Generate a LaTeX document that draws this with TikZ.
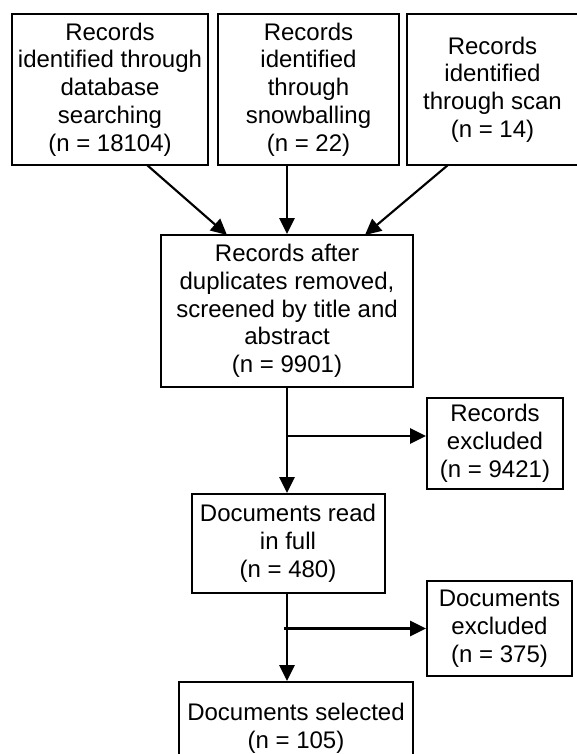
\documentclass[tikz,border=0pt]{standalone}
\usepackage{fontspec}
\setmainfont{Liberation Sans}
\usetikzlibrary{arrows.meta}
\tikzset{
  box/.style={draw, line width=1.5pt, align=center, inner sep=0pt,
    font=\fontsize{18}{20.8}\selectfont},
  arr/.style={line width=1.6pt, -{Triangle[length=12pt,width=11.5pt]}}
}
\begin{document}
\begin{tikzpicture}[x=0.75pt,y=-0.75pt]
\useasboundingbox (0,0) rectangle (577,754);
\clip (0,0) rectangle (577,754);
\fill[white] (0,0) rectangle (577,754);

\node[box, minimum width=147pt, minimum height=113.25pt] (db) at (110,89.5)
  {Records\\identified through\\database\\searching\\(n = 18104)};
\node[box, minimum width=135.75pt, minimum height=113.25pt] (snow) at (308.5,89.5)
  {Records\\identified\\through\\snowballing\\(n = 22)};
\node[box, minimum width=128.25pt, minimum height=113.25pt] (scan) at (492.5,89.5)
  {Records\\identified\\through scan\\(n = 14)};

\node[box, minimum width=189pt, minimum height=114pt] (mid) at (287,311)
  {Records after\\duplicates removed,\\screened by title and\\abstract\\(n = 9901)};

\node[box, minimum width=102pt, minimum height=68.25pt] (ex1) at (495,443.5)
  {Records\\excluded\\(n = 9421)};

\node[box, minimum width=144.75pt, minimum height=74.25pt] (read) at (288,543.5)
  {Documents read\\in full\\(n = 480)};

\node[box, minimum width=108.75pt, minimum height=71.25pt] (ex2) at (499.5,628.5)
  {Documents\\excluded\\(n = 375)};

\node[box, minimum width=175.5pt, minimum height=69pt] (sel) at (296,728)
  {Documents selected\\(n = 105)};

% connectors from the top row
\coordinate (s1) at (147,165);
\coordinate (t1) at (227,235);
\coordinate (s3) at (448,165);
\coordinate (t3) at (365,235);
\draw[arr] (s1) -- (t1);
\draw[arr] (snow.south -| mid.north) -- (mid.north);
\draw[arr] (s3) -- (t3);

% first stage
\draw[arr] (mid.south) -- (mid.south |- read.north);
\coordinate (b1) at (287,436);
\draw[arr] (b1) -- (b1 -| ex1.west);

% second stage
\draw[arr] (read.south -| mid.south) -- (mid.south |- sel.north);
\coordinate (b2) at (284,628.5);
\draw[arr] (b2) -- (ex2.west);
\end{tikzpicture}
\end{document}
